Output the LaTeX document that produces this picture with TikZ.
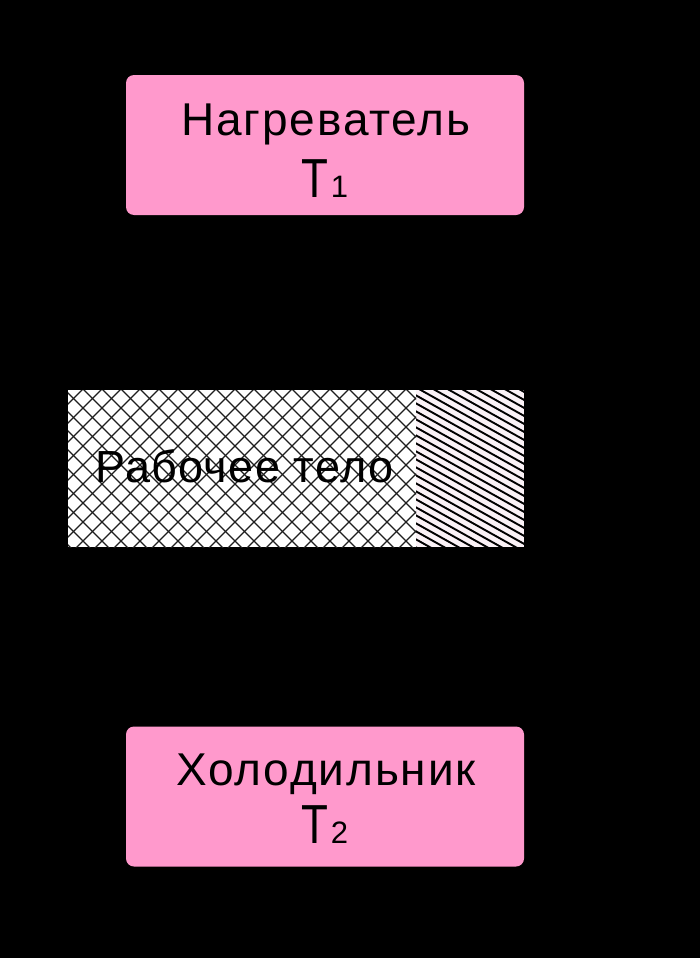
\documentclass[tikz,border=0pt]{standalone}
\usepackage{fontspec}
\setmainfont{Liberation Sans}
\newfontfamily\spacedfont[LetterSpace=4]{Liberation Sans}
\newfontfamily\bodyfont[LetterSpace=3]{Liberation Sans}
\definecolor{boxpink}{RGB}{255,153,204}
\definecolor{stripbg}{RGB}{251,242,247}
\definecolor{hatchline}{RGB}{30,30,30}
\tikzset{
  pinkbox/.style={fill=boxpink, draw=none, rounded corners=8pt, minimum width=398pt, minimum height=140pt, inner sep=0pt},
  bigtext/.style={anchor=base, inner sep=0pt, font=\spacedfont\fontsize{46}{55}\selectfont},
  subtext/.style={anchor=base, inner sep=0pt, font=\fontsize{55}{60}\selectfont},
  bodytext/.style={anchor=base west, inner sep=0pt, font=\bodyfont\fontsize{45}{54}\selectfont},
  cross/.style={draw=hatchline, line width=1.3pt},
  stripe/.style={draw=black, line width=1.9pt}
}
\newcommand{\tsub}[1]{\scalebox{0.8}[1]{T}\kern2pt{\fontsize{31}{34}\selectfont #1}}
\begin{document}
\begin{tikzpicture}[x=1pt,y=1pt]
  \fill[black] (0,0) rectangle (700,-958);
  \useasboundingbox (0,0) rectangle (700,-958);

  % heater
  \node[pinkbox] (heater) at (325,-145) {};
  \node[bigtext] (heatername) at (326,-135) {Нагреватель};
  \node[subtext] (heatertemp) at (325,-197) {\tsub{1}};

  % working body
  \coordinate (bodyNW) at (68,-390);
  \coordinate (bodySE) at (524,-547);
  \fill[white] (68,-390) rectangle (416,-547);
  \fill[stripbg] (416,-390) rectangle (524,-547);
  \begin{scope}
    \clip (68,-390) rectangle (416,-547);
    \foreach \k in {-12,...,30} {
      \draw[cross] ({83+19*\k-220},{-389+220}) -- ({83+19*\k+220},{-389-220});
      \draw[cross] ({83+19*\k+220},{-389+220}) -- ({83+19*\k-220},{-389-220});
    }
  \end{scope}
  \begin{scope}
    \clip (416,-390) rectangle (524,-547);
    \foreach \k in {-12,...,22} {
      \draw[stripe] (410,{-392-8*\k}) -- (530,{-392-8*\k-0.56*120});
    }
  \end{scope}
  \node[bodytext] (bodyname) at (95,-482) {Рабочее тело};

  % cooler
  \node[pinkbox] (cooler) at (325,-796.5) {};
  \node[bigtext] (coolername) at (326,-785) {Холодильник};
  \node[subtext] (coolertemp) at (325,-843) {\tsub{2}};
\end{tikzpicture}
\end{document}
